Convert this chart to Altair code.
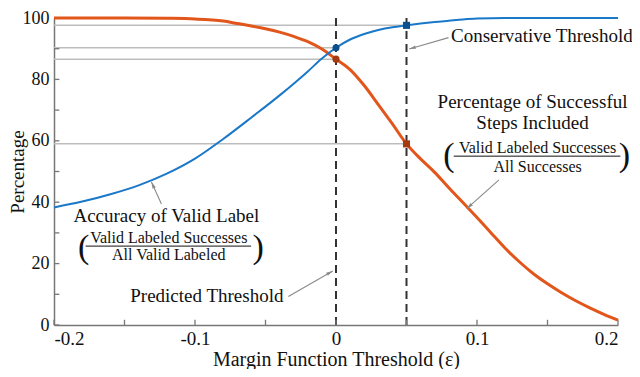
import altair as alt
import pandas as pd
import numpy as np

# ---- data ----
acc_x = [-0.2, -0.18, -0.16, -0.14, -0.12, -0.10, -0.08, -0.06, -0.04, -0.02, -0.01,
         0.0, 0.01, 0.02, 0.03, 0.04, 0.05, 0.06, 0.07, 0.08, 0.09, 0.10, 0.12, 0.15, 0.20]
acc_y = [38.3, 40.2, 42.6, 45.5, 49.3, 54.2, 60.6, 67.6, 74.8, 82.6, 86.8,
         90.3, 93.0, 94.8, 96.1, 97.0, 97.6, 98.2, 98.7, 99.1, 99.5, 99.8, 100, 100, 100]

pct_x = [-0.2, -0.15, -0.12, -0.10, -0.09, -0.08, -0.07, -0.06, -0.05, -0.04, -0.03,
         -0.02, -0.01, 0.0, 0.01, 0.02, 0.03, 0.04, 0.05, 0.06, 0.07, 0.08, 0.09,
         0.10, 0.11, 0.12, 0.13, 0.14, 0.15, 0.16, 0.17, 0.18, 0.19, 0.20]
pct_y = [100, 100, 99.9, 99.7, 99.4, 99.0, 98.2, 97.4, 96.5, 95.4, 94.0,
         92.3, 89.9, 86.6, 83.2, 78.0, 71.8, 65.5, 59.0, 54.1, 49.7, 44.7, 39.9,
         35.0, 30.0, 25.0, 20.6, 16.7, 13.4, 10.5, 7.9, 5.6, 3.5, 1.6]

thresholds = [0.0, 0.05]
mark_x = [0.05, 0.0, 0.0, 0.05]
mark_y = [97.6, 90.3, 86.6, 59.0]
mark_series = ["acc", "acc", "pct", "pct"]
mark_shape = ["square", "circle", "circle", "square"]

x_labels = [-0.2, -0.1, 0.0, 0.1, 0.2]
y_labels = [0, 20, 40, 60, 80, 100]
x_minor = [-0.2, -0.15, -0.1, -0.05, 0.0, 0.05, 0.1, 0.15, 0.2]
y_minor = [0, 10, 20, 30, 40, 50, 60, 70, 80, 90, 100]

ann_text = ["Conservative Threshold", "Percentage of Successful", "Steps Included",
            "Accuracy of Valid Label", "Predicted Threshold"]
ann_x = [0.146, 0.1394, 0.1394, -0.1203, -0.0916]
ann_y = [94.0, 72.8, 65.8, 35.5, 9.3]

frac_text = ["Valid Labeled Successes", "All Successes",
             "Valid Labeled Successes", "All Valid Labeled"]
frac_x = [0.143, 0.143, -0.1186, -0.1186]
frac_y = [57.8, 51.6, 28.4, 22.8]

bar_x0 = [0.0835, -0.1776]
bar_x1 = [0.2017, -0.0602]
bar_y = [55.0, 25.7]

paren_text = ["(", ")", "(", ")"]
paren_x = [0.080, 0.2045, -0.179, -0.0552]
paren_y = [55.2, 55.2, 25.2, 25.2]

arr_x0 = [0.0798, 0.1156, -0.1238, -0.0338]
arr_y0 = [93.6, 47.3, 39.4, 9.3]
arr_x1 = [0.0519, 0.0927, -0.1309, -0.0023]
arr_y1 = [89.9, 37.9, 46.6, 17.6]

BLUE = "#1a78c8"
ORANGE = "#e2561c"
FONT = "Liberation Serif"

W, H = 564, 307
XS = alt.Scale(domain=[-0.2, 0.2], nice=False, zero=False)
YS = alt.Scale(domain=[0, 100], nice=False, zero=False)


def X(f, **kw):
    return alt.X(f, scale=XS, **kw)


def Y(f, **kw):
    return alt.Y(f, scale=YS, **kw)


acc_df = pd.DataFrame({"x": acc_x, "y": acc_y})
pct_df = pd.DataFrame({"x": pct_x, "y": pct_y})
thr_df = pd.DataFrame({"x": thresholds})
mk_df = pd.DataFrame({"x": mark_x, "y": mark_y, "s": mark_series, "shape": mark_shape})
ref_df = pd.DataFrame({"x": mark_x, "y": mark_y})
xt_df = pd.DataFrame({"x": x_minor})
yt_df = pd.DataFrame({"y": y_minor})
ann_df = pd.DataFrame({"x": ann_x, "y": ann_y, "t": ann_text})
frac_df = pd.DataFrame({"x": frac_x, "y": frac_y, "t": frac_text})
bar_df = pd.DataFrame({"x0": bar_x0, "x1": bar_x1, "y": bar_y})
par_df = pd.DataFrame({"x": paren_x, "y": paren_y, "t": paren_text})

ax0 = np.array(arr_x0); ay0 = np.array(arr_y0)
ax1 = np.array(arr_x1); ay1 = np.array(arr_y1)
dxs = (ax1 - ax0) * W / 0.4
dys = -(ay1 - ay0) * H / 100.0
ang = np.degrees(np.arctan2(dxs, -dys)) % 360
arr_df = pd.DataFrame({"x0": ax0, "y0": ay0, "x1": ax1, "y1": ay1, "ang": ang})

x_axis = alt.Axis(values=x_labels, ticks=False, grid=False, domainColor="#777777",
                  domainWidth=1.5, labelFont=FONT, labelFontSize=19, labelColor="#111111",
                  labelPadding=4,
                  labelExpr="datum.value == 0 ? '0' : (datum.value < 0 ? '-' : '') + format(abs(datum.value), '.1f')",
                  title="Margin Function Threshold (ε)", titleFont=FONT, titleFontSize=20,
                  titleFontWeight="normal", titleColor="#111111", titleBaseline="middle",
                  titleY=34)
y_axis = alt.Axis(values=y_labels, ticks=False, grid=False, domainColor="#777777",
                  domainWidth=1.5, labelFont=FONT, labelFontSize=18, labelColor="#111111",
                  labelPadding=5, title="Percentage", titleFont=FONT, titleFontSize=19,
                  titleFontWeight="normal", titleColor="#111111", titleBaseline="middle",
                  titleX=-37, titleY=H / 2)

refs = alt.Chart(ref_df).mark_rule(color="#bdbdbd", strokeWidth=1.5).encode(
    x=X("x0:Q", axis=x_axis), x2="x", y=Y("y:Q", axis=y_axis)
).transform_calculate(x0="-0.2")

dashed = alt.Chart(thr_df).mark_rule(color="#333333", strokeWidth=2, strokeDash=[8, 5]).encode(
    x=X("x:Q"), y=alt.datum(0, scale=YS), y2=alt.datum(100)
)

pct_line = alt.Chart(pct_df).mark_line(color=ORANGE, strokeWidth=3, interpolate="monotone").encode(
    x=X("x:Q"), y=Y("y:Q")
)
acc_line = alt.Chart(acc_df).mark_line(color=BLUE, strokeWidth=2, interpolate="monotone").encode(
    x=X("x:Q"), y=Y("y:Q")
)

markers = alt.Chart(mk_df).mark_point(filled=True, size=50, opacity=1).encode(
    x=X("x:Q"), y=Y("y:Q"),
    shape=alt.Shape("shape:N", scale=None),
    color=alt.Color("s:N", scale=alt.Scale(domain=["acc", "pct"], range=["#0d4f8c", "#a33a12"]),
                    legend=None)
)

xticks = alt.Chart(xt_df).mark_rule(color="#777777", strokeWidth=1.3).encode(
    x=X("x:Q"), y=alt.datum(0, scale=YS), y2=alt.datum(1.7)
)
yticks = alt.Chart(yt_df).mark_rule(color="#777777", strokeWidth=1.3).encode(
    y=Y("y:Q"), x=alt.datum(-0.2, scale=XS), x2=alt.datum(-0.1962)
)

arr_lines = alt.Chart(arr_df).mark_rule(color="#8a8a8a", strokeWidth=1.1).encode(
    x=X("x0:Q"), y=Y("y0:Q"), x2="x1", y2="y1"
)
arr_heads = alt.Chart(arr_df).mark_point(
    filled=True, color="#8a8a8a", size=49, opacity=1,
    shape="M0,0L-0.5,1.9L0.5,1.9Z"
).encode(x=X("x1:Q"), y=Y("y1:Q"), angle=alt.Angle("ang:Q", scale=None))

ann = alt.Chart(ann_df).mark_text(font=FONT, fontSize=19, color="#111111", align="center",
                                  baseline="middle").encode(
    x=X("x:Q"), y=Y("y:Q"), text="t:N")
frac = alt.Chart(frac_df).mark_text(font=FONT, fontSize=16, color="#111111", align="center",
                                    baseline="middle").encode(
    x=X("x:Q"), y=Y("y:Q"), text="t:N")
bars = alt.Chart(bar_df).mark_rule(color="#111111", strokeWidth=1).encode(
    x=X("x0:Q"), x2="x1", y=Y("y:Q"))
parens = alt.Chart(par_df).mark_text(font=FONT, fontSize=34, color="#111111", align="center",
                                     baseline="middle").encode(
    x=X("x:Q"), y=Y("y:Q"), text="t:N")

chart = alt.layer(
    refs, dashed, xticks, yticks, pct_line, acc_line, markers,
    arr_lines, arr_heads, ann, frac, bars, parens
).properties(
    width=W, height=H,
    autosize=alt.AutoSizeParams(type="none"),
    padding={"left": 46, "top": 10, "right": 14, "bottom": 44},
    background="white",
).configure_view(strokeWidth=0)

chart.save("out.html", embed_options={"renderer": "svg", "actions": False})
